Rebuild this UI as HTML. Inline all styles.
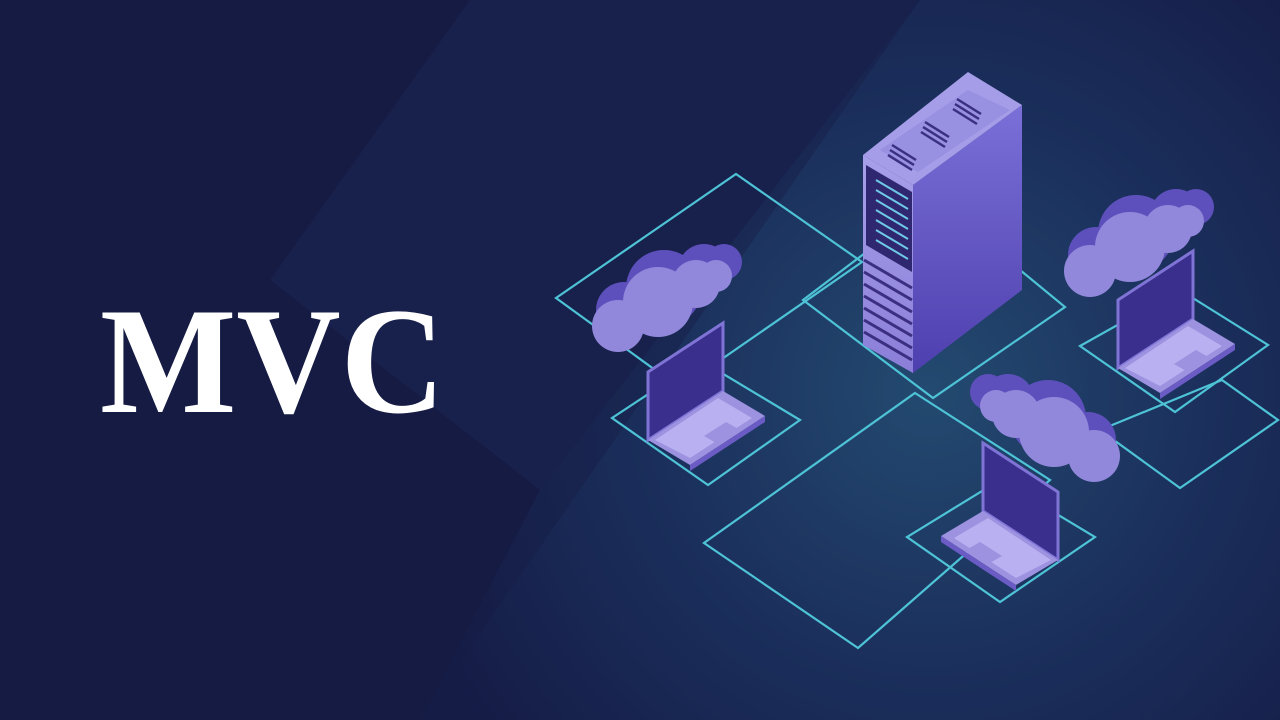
<!DOCTYPE html>
<html><head><meta charset="utf-8"><style>html,body{margin:0;padding:0;background:#141a42;}svg{display:block}</style></head>
<body>
<svg width="1280" height="720" viewBox="0 0 1280 720" xmlns="http://www.w3.org/2000/svg">
<defs>
<radialGradient id="glow" cx="930" cy="390" r="560" gradientUnits="userSpaceOnUse">
<stop offset="0" stop-color="#234a70"/><stop offset="0.5" stop-color="#1b2f5c"/><stop offset="1" stop-color="#151c46"/>
</radialGradient>
<linearGradient id="srvR" x1="0" y1="0" x2="0" y2="1"><stop offset="0" stop-color="#7a70d8"/><stop offset="1" stop-color="#4e3fae"/></linearGradient>
<linearGradient id="srvL" x1="0" y1="0" x2="0" y2="1"><stop offset="0" stop-color="#a8a0ea"/><stop offset="1" stop-color="#8a7ed8"/></linearGradient>
<g id="cloud">
 <g fill="#5e50bc">
  <circle cx="32" cy="70" r="28"/><circle cx="72" cy="48" r="38"/><circle cx="112" cy="30" r="26"/><circle cx="132" cy="22" r="18"/>
  <polygon points="6,78 10,96 140,30 140,16"/>
 </g>
 <g fill="#9188dc" transform="translate(-6,10)">
  <circle cx="32" cy="76" r="26"/><circle cx="72" cy="52" r="35"/><circle cx="110" cy="34" r="24"/><circle cx="130" cy="26" r="16"/>
 </g>
</g>
<g id="laptop">
 <polygon points="648,372 723,323 723,391 648,440" fill="#3a2f8c" stroke="#7f74d6" stroke-width="3"/>
 <polygon points="648,440 723,391 765,416 690,465" fill="#9c92e0"/>
 <polygon points="655,440 718,398 752,418 690,458" fill="#b8b0f0"/>
 <polygon points="704,436 726,422 740,430 718,444" fill="#9c92e0"/>
 <polygon points="690,465 765,416 765,422 690,471" fill="#6a5cc4"/>
</g>
</defs>
<rect width="1280" height="720" fill="#151b43"/>
<polygon points="920,0 1280,0 1280,720 420,720" fill="url(#glow)"/>
<polygon points="270,280 470,0 920,0 540,490" fill="#18204c"/>
<polygon points="540,490 920,0 1000,0 600,720 420,720" fill="url(#glow)" opacity="0.6"/>
<g fill="none" stroke="#4ec3d6" stroke-width="2.2">
 <polygon points="736,174 862,262 680,388 556,298"/>
 <polygon points="700,360 800,420 708,485 612,418"/>
 <polygon points="935,200 1065,307 933,398 803,300"/>
 <polygon points="915,393 1050,480 858,648 704,543"/>
 <polygon points="1000,480 1095,537 1000,602 907,537"/>
 <polygon points="1180,290 1268,345 1175,412 1080,346"/>
 <polygon points="1222,380 1278,420 1180,488 1100,430"/>
</g>
<!-- server -->
<polygon points="913,185 1022,105 1022,290 913,373" fill="url(#srvR)"/>
<polygon points="863,155 913,185 913,373 863,345" fill="url(#srvL)"/>
<polygon points="863,155 968,72 1022,105 913,185" fill="#a59de8"/>
<polygon points="880,150 968,90 1010,110 918,172" fill="#9890e0"/>
<g stroke="#3a2f80" stroke-width="2.5">
 <line x1="892" y1="145" x2="916" y2="160"/><line x1="890" y1="150" x2="914" y2="165"/><line x1="888" y1="155" x2="912" y2="170"/>
 <line x1="925" y1="122" x2="949" y2="137"/><line x1="923" y1="127" x2="947" y2="142"/><line x1="921" y1="132" x2="945" y2="147"/>
 <line x1="957" y1="99" x2="981" y2="114"/><line x1="955" y1="104" x2="979" y2="119"/><line x1="953" y1="109" x2="977" y2="124"/>
</g>
<polygon points="866,165 912,192 912,272 866,245" fill="#2f2870"/>
<g stroke="#6ec8e6" stroke-width="2">
 <line x1="876" y1="180" x2="908" y2="199"/><line x1="876" y1="190" x2="908" y2="209"/><line x1="876" y1="200" x2="908" y2="219"/>
 <line x1="876" y1="210" x2="908" y2="229"/><line x1="876" y1="220" x2="908" y2="239"/><line x1="876" y1="230" x2="908" y2="249"/><line x1="876" y1="240" x2="908" y2="259"/>
</g>
<g stroke="#3a2f80" stroke-width="3">
 <line x1="864" y1="260" x2="912" y2="288"/><line x1="864" y1="272" x2="912" y2="300"/><line x1="864" y1="284" x2="912" y2="312"/>
 <line x1="864" y1="296" x2="912" y2="324"/><line x1="864" y1="308" x2="912" y2="336"/><line x1="864" y1="320" x2="912" y2="348"/><line x1="864" y1="332" x2="912" y2="360"/>
</g>
<!-- clouds -->
<use href="#cloud" transform="translate(592,240)"/>
<use href="#cloud" transform="translate(1064,185)"/>
<use href="#cloud" transform="translate(1120,370) scale(-1,1)"/>
<!-- laptops -->
<use href="#laptop"/>
<use href="#laptop" transform="translate(470,-72)"/>
<use href="#laptop" transform="translate(1706,120) scale(-1,1)"/>
<text x="100" y="412" font-family="Liberation Serif, serif" font-weight="bold" font-size="152" fill="#ffffff" textLength="345" lengthAdjust="spacingAndGlyphs">MVC</text>
</svg>
</body></html>
